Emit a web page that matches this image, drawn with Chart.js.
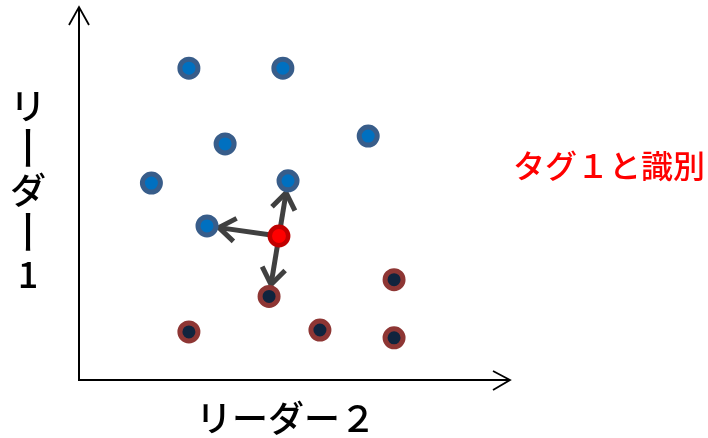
<!DOCTYPE html>
<html>
<head>
<meta charset="utf-8">
<script src="https://cdn.jsdelivr.net/npm/chart.js@4/dist/chart.umd.min.js"></script>
<style>
html,body{margin:0;padding:0;background:#fff;}
#wrap{width:708px;height:438px;}
</style>
</head>
<body>
<div id="wrap"><canvas id="c" width="708" height="438"></canvas></div>
<script>
// Data (abstract units, 0..10 on both axes)
const blueX = [2.55, 4.73, 3.39, 6.71, 1.68, 4.85, 2.97];
const blueY = [8.36, 8.36, 6.33, 6.54, 5.28, 5.34, 4.13];
const brownX = [7.31, 4.41, 2.55, 5.59, 7.31];
const brownY = [2.69, 2.24, 1.29, 1.34, 1.13];
const redX = [4.64];
const redY = [3.86];
// nearest neighbours of the red point: [dataset index, point index]
const neighbours = [[0, 6], [0, 5], [1, 1]];
const xLabel = 'リーダー２';
const yLabel = 'リーダー1';
const tagLabel = 'タグ１と識別';

const toPts = (xs, ys) => xs.map((x, i) => ({x: x, y: ys[i]}));

const FONT = '"Noto Sans CJK JP", "Noto Sans", sans-serif';

const decor = {
  id: 'decor',
  beforeDatasetsDraw(chart) {
    const ctx = chart.ctx;
    const xs = chart.scales.x, ys = chart.scales.y;
    const a = chart.chartArea;
    ctx.save();
    // axes
    ctx.strokeStyle = '#000';
    ctx.lineWidth = 2;
    ctx.lineCap = 'butt';
    ctx.beginPath();
    ctx.moveTo(a.left, a.top);
    ctx.lineTo(a.left, a.bottom);
    ctx.lineTo(a.right, a.bottom);
    ctx.stroke();
    ctx.lineWidth = 1.8;
    ctx.beginPath();
    ctx.moveTo(a.left - 10, a.top + 18);
    ctx.lineTo(a.left, a.top);
    ctx.lineTo(a.left + 10, a.top + 18);
    ctx.moveTo(a.right - 17, a.bottom - 9);
    ctx.lineTo(a.right, a.bottom);
    ctx.lineTo(a.right - 17, a.bottom + 10);
    ctx.stroke();

    // arrows from red point to neighbours
    const rx = xs.getPixelForValue(redX[0]);
    const ry = ys.getPixelForValue(redY[0]);
    ctx.strokeStyle = '#404040';
    ctx.lineWidth = 5;
    neighbours.forEach(([d, i]) => {
      const pt = chart.data.datasets[d].data[i];
      const tx = xs.getPixelForValue(pt.x);
      const ty = ys.getPixelForValue(pt.y);
      const ang = Math.atan2(ty - ry, tx - rx);
      const sx = rx + Math.cos(ang) * 8, sy = ry + Math.sin(ang) * 8;
      const ex = tx - Math.cos(ang) * 12, ey = ty - Math.sin(ang) * 12;
      ctx.lineCap = 'butt';
      ctx.lineJoin = 'miter';
      ctx.beginPath();
      ctx.moveTo(sx, sy);
      ctx.lineTo(ex - Math.cos(ang) * 2, ey - Math.sin(ang) * 2);
      ctx.stroke();
      const L = 20, sp = 0.62;
      ctx.beginPath();
      ctx.moveTo(ex - Math.cos(ang - sp) * L, ey - Math.sin(ang - sp) * L);
      ctx.lineTo(ex, ey);
      ctx.lineTo(ex - Math.cos(ang + sp) * L, ey - Math.sin(ang + sp) * L);
      ctx.stroke();
    });
    ctx.restore();
  },
  afterDraw(chart) {
    const ctx = chart.ctx;
    ctx.save();
    ctx.fillStyle = '#000';
    ctx.textAlign = 'center';
    ctx.textBaseline = 'middle';
    ctx.font = '500 36px ' + FONT;
    ctx.fillText(xLabel, 286, 418);
    // vertical y label
    const chars = Array.from(yLabel);
    chars.forEach((ch, i) => {
      const cy = 106 + i * 42;
      if (ch === 'ー') {
        ctx.save();
        ctx.translate(28, cy);
        ctx.rotate(Math.PI / 2);
        ctx.scale(1.3, 1);
        ctx.font = '500 36px ' + FONT;
        ctx.fillText(ch, 0, 0);
        ctx.restore();
      } else {
        ctx.font = '500 36px ' + FONT;
        ctx.fillText(ch, 28, cy);
      }
    });
    ctx.fillStyle = '#ff0000';
    ctx.textAlign = 'left';
    ctx.font = '500 32px ' + FONT;
    ctx.fillText(tagLabel, 513, 166);
    ctx.restore();
  }
};

new Chart(document.getElementById('c'), {
  type: 'scatter',
  data: {
    datasets: [
      {data: toPts(blueX, blueY), backgroundColor: '#0070c0', borderColor: '#385d8a', borderWidth: 5, pointRadius: 9, pointHoverRadius: 9},
      {data: toPts(brownX, brownY), backgroundColor: '#10243e', borderColor: '#8e3634', borderWidth: 5, pointRadius: 9, pointHoverRadius: 9},
      {data: toPts(redX, redY), backgroundColor: '#ff0000', borderColor: '#c00000', borderWidth: 4.5, pointRadius: 9.2, pointHoverRadius: 9.2}
    ]
  },
  options: {
    responsive: false,
    animation: false,
    devicePixelRatio: 1,
    layout: {autoPadding: false, padding: {left: 79, right: 198, top: 7, bottom: 58}},
    plugins: {legend: {display: false}, tooltip: {enabled: false}},
    scales: {
      x: {type: 'linear', min: 0, max: 10, display: false},
      y: {type: 'linear', min: 0, max: 10, display: false}
    }
  },
  plugins: [decor]
});
</script>
</body>
</html>
